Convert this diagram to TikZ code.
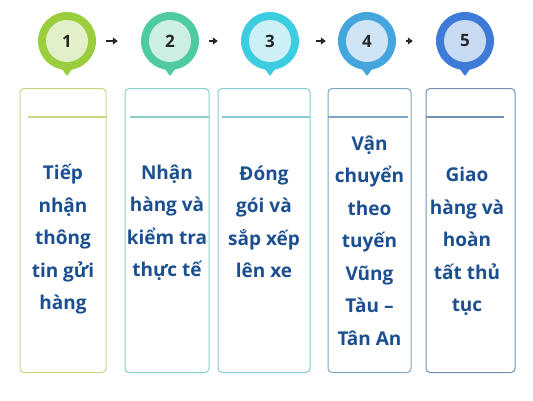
\documentclass[tikz,border=0pt]{standalone}
\usepackage{fontspec}
\setmainfont{Open Sans}
\usetikzlibrary{arrows.meta, positioning, calc}
\definecolor{textblue}{RGB}{27,79,143}
\definecolor{ringA}{RGB}{155,206,62}
\definecolor{coreA}{RGB}{226,240,201}
\definecolor{ringB}{RGB}{78,203,161}
\definecolor{coreB}{RGB}{205,239,227}
\definecolor{ringC}{RGB}{61,205,224}
\definecolor{coreC}{RGB}{204,240,245}
\definecolor{ringD}{RGB}{69,166,221}
\definecolor{coreD}{RGB}{207,229,245}
\definecolor{ringE}{RGB}{62,123,216}
\definecolor{coreE}{RGB}{201,218,243}
\definecolor{edgeA}{RGB}{196,218,130}
\definecolor{edgeB}{RGB}{136,208,196}
\definecolor{edgeC}{RGB}{136,204,214}
\definecolor{edgeD}{RGB}{127,166,190}
\definecolor{edgeE}{RGB}{112,146,182}

\begin{document}
\begin{tikzpicture}[
        x=1pt, y=-1pt,
        ring/.style={circle, fill=#1, minimum size=58pt, inner sep=0pt},
        core/.style={circle, fill=#1, minimum size=42pt, inner sep=0pt, text=black!85, font=\fontsize{17}{19}\selectfont\bfseries},
        card/.style={draw=#1, rounded corners=4pt, line width=1pt, minimum height=284pt, anchor=north},
        label/.style={text=textblue, font=\fontsize{19}{32.5}\selectfont\bfseries, align=center, anchor=north},
        arrow/.style={-{Triangle[length=5pt,width=7pt]}, line width=2.2pt, black!85, shorten <=10pt, shorten >=23pt}
    ]
        \useasboundingbox (0,0) rectangle (533,400);

        \node[ring=ringA] (pin1) at (67,41) {};
        \node[ring=ringB] (pin2) at (170,41) {};
        \node[ring=ringC] (pin3) at (270,41) {};
        \node[ring=ringD] (pin4) at (367,41) {};
        \node[ring=ringE] (pin5) at (465,41) {};

        \fill[ringA, rounded corners=1pt] ($(pin1.south)+(-7,-4)$) -- ($(pin1.south)+(0,6)$) -- ($(pin1.south)+(7,-4)$) -- cycle;
        \fill[ringB, rounded corners=1pt] ($(pin2.south)+(-7,-4)$) -- ($(pin2.south)+(0,6)$) -- ($(pin2.south)+(7,-4)$) -- cycle;
        \fill[ringC, rounded corners=1pt] ($(pin3.south)+(-7,-4)$) -- ($(pin3.south)+(0,6)$) -- ($(pin3.south)+(7,-4)$) -- cycle;
        \fill[ringD, rounded corners=1pt] ($(pin4.south)+(-7,-4)$) -- ($(pin4.south)+(0,6)$) -- ($(pin4.south)+(7,-4)$) -- cycle;
        \fill[ringE, rounded corners=1pt] ($(pin5.south)+(-7,-4)$) -- ($(pin5.south)+(0,6)$) -- ($(pin5.south)+(7,-4)$) -- cycle;

        \node[core=coreA] (num1) at (pin1) {1};
        \node[core=coreB] (num2) at (pin2) {2};
        \node[core=coreC] (num3) at (pin3) {3};
        \node[core=coreD] (num4) at (pin4) {4};
        \node[core=coreE] (num5) at (pin5) {5};

        \draw[arrow] (pin1) -- (pin2);
        \draw[arrow] (pin2) -- (pin3);
        \draw[arrow, shorten <=17pt, shorten >=12pt] (pin3) -- (pin4);
        \draw[arrow] (pin4) -- (pin5);

        \node[card=edgeA, minimum width=86pt] (card1) at (63,88) {};
        \node[card=edgeB, minimum width=84pt] (card2) at (167,88) {};
        \node[card=edgeC, minimum width=92pt] (card3) at (264,88) {};
        \node[card=edgeD, minimum width=83pt] (card4) at (369.5,88) {};
        \node[card=edgeE, minimum width=89pt] (card5) at (470.5,88) {};

        \draw[edgeA, line width=1.2pt] ($(card1.north west)+(8,29)$) -- ($(card1.north east)+(0,29)$);
        \draw[edgeB, line width=1.2pt] ($(card2.north west)+(5,29)$) -- ($(card2.north east)+(-1,29)$);
        \draw[edgeC, line width=1.2pt] ($(card3.north west)+(4,29)$) -- ($(card3.north east)+(-1,29)$);
        \draw[edgeD, line width=1.2pt] ($(card4.north west)+(0,29)$) -- ($(card4.north east)+(-4,29)$);
        \draw[edgeE, line width=1.2pt] ($(card5.north west)+(0,29)$) -- ($(card5.north east)+(-12,29)$);

        \node[label] (text1) at (63,161) {Tiếp\\nhận\\thông\\tin gửi\\hàng};
        \node[label] (text2) at (167,161) {Nhận\\hàng và\\kiểm tra\\thực tế};
        \node[label] (text3) at (264,162) {Đóng\\gói và\\sắp xếp\\lên xe};
        \node[label] (text4) at (369.5,132) {Vận\\chuyển\\theo\\tuyến\\Vũng\\Tàu –\\Tân An};
        \node[label] (text5) at (467,164) {Giao\\hàng và\\hoàn\\tất thủ\\tục};
    \end{tikzpicture}
\end{document}
